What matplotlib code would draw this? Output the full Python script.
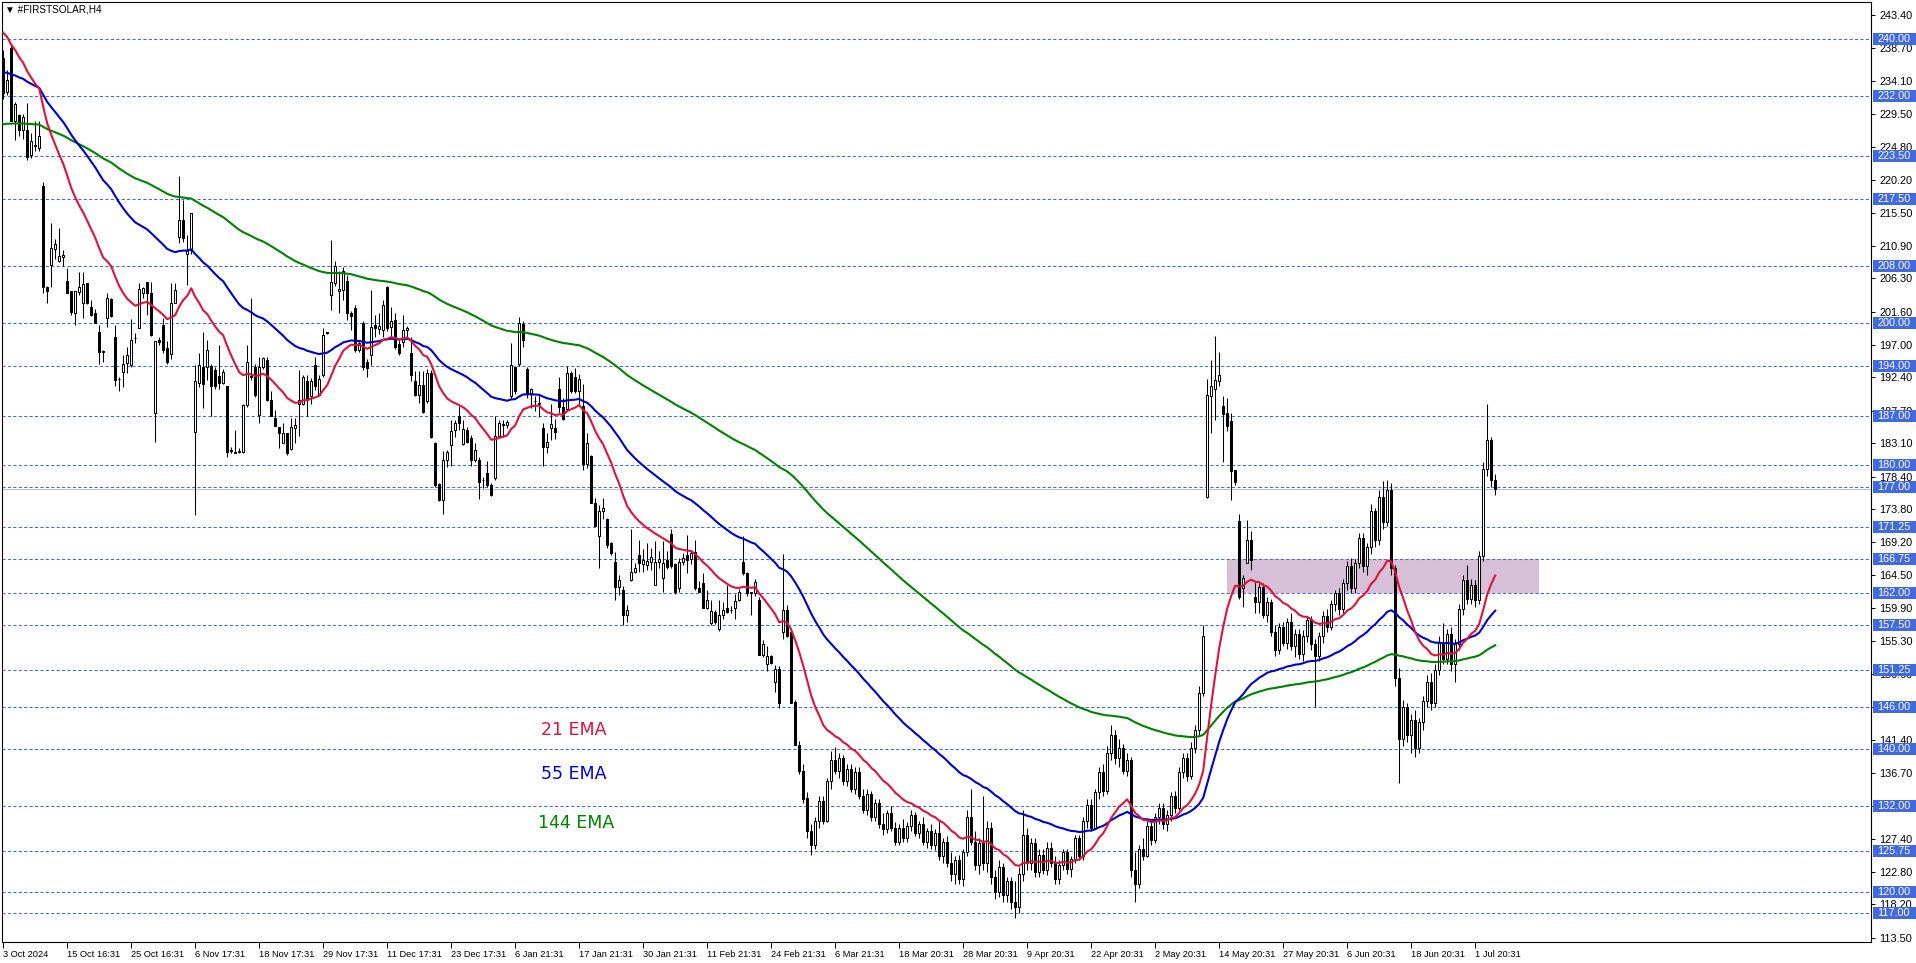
import numpy as np
import matplotlib.pyplot as plt
from matplotlib.patches import Rectangle
from matplotlib.transforms import blended_transform_factory

# ---- candle data (H4 bars, open/high/low/close) ----
bars_oct_mar = [
    (237.3, 238.5, 231.5, 232.4), (232.6, 235.6, 232.1, 234.3), (238.7, 239.5, 228.4, 228.4), (228.4, 231.2, 225.8, 230.9),
    (229.3, 229.5, 226.3, 227.2), (227.2, 229.4, 226.0, 229.0), (227.2, 231.0, 223.0, 223.4), (223.7, 226.8, 223.3, 225.6),
    (224.9, 228.4, 224.2, 225.1), (224.6, 228.4, 224.3, 226.4), (219.3, 219.9, 204.3, 205.1), (205.1, 205.2, 202.8, 204.6),
    (208.2, 214.1, 205.1, 210.6), (210.5, 211.8, 209.1, 211.2), (208.8, 213.4, 208.6, 209.5), (209.3, 210.3, 208.0, 209.6),
    (206.0, 207.8, 204.3, 204.3), (204.5, 204.6, 201.2, 201.6), (201.4, 204.6, 199.8, 204.5), (204.4, 207.2, 204.0, 205.1),
    (202.8, 207.2, 200.8, 205.5), (205.6, 205.7, 202.7, 202.9), (202.3, 203.3, 201.0, 201.2), (201.4, 202.0, 200.0, 200.1),
    (198.8, 199.8, 194.3, 196.0), (196.1, 196.3, 194.5, 196.0), (200.8, 204.2, 199.5, 203.5), (203.4, 203.5, 200.9, 201.0),
    (198.0, 199.8, 191.1, 192.0), (192.2, 192.4, 190.5, 192.1), (193.2, 195.5, 191.0, 194.2), (194.4, 196.7, 193.0, 195.5),
    (194.1, 200.6, 193.8, 197.7), (197.9, 198.6, 197.2, 197.9), (199.3, 205.6, 199.3, 204.8), (204.2, 205.1, 203.6, 204.9),
    (205.8, 205.8, 201.2, 204.2), (204.2, 205.8, 198.2, 198.3), (187.4, 197.5, 183.3, 197.5), (197.6, 198.1, 196.9, 197.3),
    (199.8, 200.7, 195.8, 196.2), (196.5, 197.5, 194.3, 194.6), (195.7, 205.6, 194.9, 202.9), (202.9, 205.6, 202.9, 204.7),
    (212.2, 220.7, 211.3, 214.5), (214.6, 217.4, 211.5, 212.0), (209.7, 212.4, 205.4, 210.1), (210.3, 215.5, 209.8, 215.5),
    (184.7, 194.1, 173.0, 191.8), (191.6, 195.8, 191.0, 194.1), (193.9, 198.8, 188.0, 191.5), (193.9, 197.6, 192.0, 196.2),
    (194.0, 194.3, 186.9, 191.1), (193.4, 193.8, 190.8, 191.1), (192.6, 196.9, 190.8, 191.6), (191.6, 193.5, 191.4, 193.2),
    (191.1, 191.1, 181.2, 181.9), (182.2, 182.6, 181.8, 182.0), (181.9, 185.0, 181.7, 181.8), (181.9, 182.4, 181.7, 182.0),
    (181.9, 188.7, 181.7, 188.5), (188.5, 197.0, 188.2, 194.6), (192.6, 203.5, 192.0, 192.4), (193.9, 194.3, 189.6, 189.9),
    (187.1, 195.3, 185.9, 193.9), (193.9, 195.3, 193.5, 195.1), (194.8, 195.3, 189.0, 189.2), (189.2, 190.4, 186.9, 186.9),
    (186.7, 187.8, 185.5, 185.5), (185.4, 185.4, 182.4, 184.5), (183.1, 185.9, 183.1, 184.6), (184.6, 184.6, 181.5, 181.7),
    (182.3, 186.6, 182.1, 185.4), (185.2, 186.6, 183.2, 185.7), (188.7, 193.4, 184.1, 189.2), (188.7, 192.7, 188.5, 192.4),
    (191.9, 192.7, 186.9, 189.2), (189.8, 192.3, 188.7, 191.8), (194.1, 195.3, 190.6, 191.1), (189.9, 192.7, 189.9, 192.2),
    (192.7, 199.3, 192.4, 198.3), (198.8, 198.8, 198.5, 198.6), (204.0, 211.7, 201.9, 205.8), (205.7, 208.7, 205.2, 208.0),
    (204.5, 207.3, 201.4, 204.8), (204.7, 207.9, 203.3, 207.3), (206.0, 206.8, 200.5, 201.4), (201.4, 201.7, 199.0, 201.0),
    (202.1, 202.5, 195.9, 196.2), (196.2, 197.6, 195.9, 197.2), (200.1, 200.3, 193.4, 193.9), (194.6, 195.0, 192.5, 193.7),
    (195.5, 204.7, 194.1, 199.5), (199.8, 201.2, 198.1, 199.4), (199.2, 201.5, 198.5, 199.6), (199.1, 203.3, 198.1, 202.6),
    (205.1, 205.2, 198.9, 199.3), (199.5, 202.3, 198.1, 200.3), (200.5, 201.4, 196.4, 196.7), (197.1, 197.6, 195.5, 195.8),
    (197.4, 201.2, 196.6, 199.1), (199.1, 199.6, 198.1, 199.4), (195.8, 198.1, 191.8, 192.7), (191.8, 193.3, 189.7, 189.9),
    (189.9, 193.3, 188.8, 191.3), (191.3, 193.3, 187.4, 187.5), (189.1, 193.5, 188.8, 193.0), (193.0, 193.4, 183.9, 184.0),
    (183.1, 183.3, 176.9, 177.2), (177.4, 177.5, 175.0, 175.1), (175.1, 182.0, 173.2, 180.8), (180.8, 182.1, 179.8, 181.9),
    (182.9, 186.4, 179.9, 184.9), (185.0, 186.4, 184.0, 186.0), (186.9, 188.3, 185.0, 185.9), (183.0, 186.4, 182.9, 185.1),
    (185.0, 185.4, 183.2, 183.3), (183.8, 184.2, 179.9, 180.8), (180.8, 183.1, 180.5, 182.2), (180.8, 181.2, 175.2, 177.7),
    (177.9, 178.3, 176.8, 177.9), (178.9, 180.6, 177.0, 177.2), (177.2, 177.5, 175.7, 175.8), (178.2, 186.9, 178.0, 184.1),
    (184.1, 186.4, 184.0, 185.9), (185.8, 186.4, 184.0, 185.7), (185.7, 186.4, 185.2, 186.1), (189.7, 197.2, 189.4, 194.1),
    (193.9, 194.0, 190.0, 190.4), (194.3, 200.9, 194.0, 200.0), (199.9, 200.3, 196.6, 197.6), (193.6, 193.8, 189.5, 190.1),
    (190.2, 190.9, 188.0, 190.7), (189.0, 189.8, 187.7, 189.0), (188.8, 190.1, 186.8, 188.7), (185.3, 186.0, 179.9, 182.6),
    (182.6, 184.5, 181.8, 183.3), (185.2, 188.6, 183.6, 185.8), (185.2, 186.5, 183.7, 184.7), (190.7, 192.4, 187.3, 188.2),
    (188.2, 189.5, 186.4, 186.5), (187.9, 194.0, 187.8, 193.0), (193.0, 193.3, 190.2, 190.4), (192.4, 193.7, 190.2, 190.4),
    (190.4, 192.9, 188.3, 192.2), (188.3, 191.5, 179.3, 180.2), (180.2, 184.5, 179.6, 183.2), (181.3, 181.5, 174.7, 174.7),
    (174.7, 175.4, 171.4, 171.4), (170.0, 174.4, 165.5, 173.5), (173.5, 175.4, 172.5, 174.0), (172.4, 172.6, 168.3, 168.8),
    (169.0, 169.2, 167.4, 167.6), (166.4, 167.8, 161.0, 162.9), (162.9, 164.5, 161.7, 163.8), (162.5, 163.0, 157.5, 158.9),
    (158.9, 160.3, 158.0, 159.6), (163.9, 171.0, 163.7, 165.0), (165.0, 166.3, 164.9, 165.5), (167.4, 169.5, 165.0, 166.2),
    (166.1, 168.2, 165.0, 166.7), (166.0, 169.1, 165.2, 166.6), (166.4, 168.3, 165.2, 167.1), (163.2, 169.3, 163.2, 166.4),
    (166.4, 167.9, 165.5, 166.8), (164.2, 169.3, 162.2, 166.3), (166.7, 167.9, 165.4, 165.7), (170.4, 171.1, 165.6, 165.8),
    (166.1, 166.3, 161.9, 162.1), (162.8, 166.9, 162.2, 166.4), (166.4, 167.7, 166.0, 167.0), (167.4, 170.2, 164.8, 166.7),
    (166.8, 168.1, 166.1, 167.6), (167.8, 169.5, 162.5, 162.7), (162.7, 163.7, 162.1, 162.2), (163.4, 164.8, 159.9, 159.9),
    (159.9, 162.5, 159.8, 161.1), (157.8, 161.0, 157.5, 159.5), (159.4, 159.7, 157.6, 158.0), (156.9, 161.0, 156.7, 158.9),
    (158.9, 160.7, 158.4, 159.6), (159.9, 163.2, 159.2, 159.4), (159.6, 160.2, 159.2, 159.6), (159.9, 161.9, 158.3, 160.9),
    (161.0, 162.6, 160.9, 162.2), (166.4, 170.1, 164.5, 164.8), (164.8, 165.0, 161.6, 162.0), (162.1, 162.2, 158.9, 162.0),
    (162.0, 164.0, 161.6, 163.6), (161.0, 161.4, 153.3, 153.3), (153.3, 155.4, 153.0, 154.9), (152.1, 154.5, 151.0, 153.1),
    (153.1, 153.3, 152.1, 152.2), (149.5, 151.9, 148.1, 151.3), (151.3, 151.7, 145.9, 146.6), (156.5, 167.5, 155.5, 159.6),
    (159.7, 160.3, 155.9, 156.0), (156.6, 157.1, 146.5, 146.6), (146.7, 147.0, 140.6, 140.6),
]

bars_mar_may = [
    (140.6, 141.2, 136.5, 137.0), (137.0, 138.0, 132.5, 133.0), (133.2, 134.0, 127.5, 128.5), (128.5, 129.5, 125.2, 126.5),
    (126.5, 130.5, 126.0, 130.0), (130.0, 133.5, 129.0, 132.8), (132.8, 133.5, 129.5, 130.0), (130.0, 136.0, 129.8, 135.5),
    (135.5, 139.8, 134.5, 138.5), (138.5, 140.3, 136.5, 137.0), (137.0, 139.5, 136.0, 138.8), (138.8, 139.2, 135.0, 135.5),
    (135.5, 138.0, 134.8, 137.2), (137.2, 138.0, 134.0, 134.5), (134.5, 137.5, 133.8, 136.8), (136.8, 137.6, 133.0, 133.5),
    (133.5, 134.5, 131.0, 131.5), (131.5, 134.5, 130.8, 133.8), (133.8, 134.2, 130.0, 130.5), (130.5, 133.0, 130.0, 132.4),
    (132.4, 133.0, 129.0, 129.5), (129.5, 131.0, 128.0, 128.8), (128.8, 131.5, 128.2, 131.0), (131.0, 132.0, 128.5, 129.0),
    (129.0, 129.8, 126.5, 127.0), (127.0, 129.5, 126.5, 129.0), (129.0, 130.2, 127.0, 127.5), (127.5, 129.8, 127.0, 129.2),
    (129.2, 131.5, 128.5, 130.8), (130.8, 131.2, 127.8, 128.2), (128.2, 130.0, 127.5, 129.5), (129.5, 130.5, 126.5, 127.0),
    (127.0, 129.0, 126.2, 128.5), (128.5, 129.5, 126.0, 126.5), (126.5, 128.8, 125.8, 128.2), (128.2, 130.0, 124.5, 125.0),
    (125.0, 127.5, 124.0, 127.0), (127.0, 127.8, 123.5, 124.0), (124.0, 125.5, 121.5, 122.5), (122.5, 125.0, 121.0, 124.5),
    (124.5, 125.2, 121.0, 121.8), (121.8, 126.0, 120.8, 125.5), (125.5, 131.5, 125.0, 130.5), (130.5, 134.5, 126.5, 127.0),
    (127.0, 128.5, 123.0, 123.8), (123.8, 127.5, 122.5, 126.8), (126.8, 133.5, 123.0, 124.0), (124.0, 130.0, 122.8, 129.0),
    (129.0, 129.8, 121.0, 122.0), (122.0, 123.0, 119.0, 120.0), (120.0, 124.5, 119.2, 123.5), (123.5, 124.0, 118.5, 119.5),
    (119.5, 122.0, 118.5, 121.5), (121.5, 122.0, 117.5, 118.5), (118.5, 121.5, 116.3, 117.8), (117.8, 123.5, 117.0, 122.5),
    (122.5, 131.5, 121.5, 128.0), (128.0, 129.0, 123.0, 124.0), (124.0, 127.5, 123.0, 126.8), (126.8, 127.5, 122.0, 122.8),
    (122.8, 126.0, 122.0, 125.2), (125.2, 126.0, 122.5, 123.0), (123.0, 127.0, 122.3, 126.2), (126.2, 127.0, 123.5, 124.0),
    (124.0, 125.0, 121.0, 121.8), (121.8, 124.5, 121.0, 123.8), (123.8, 126.0, 123.0, 125.5), (125.5, 126.0, 122.5, 123.2),
    (123.2, 125.0, 122.0, 124.6), (124.6, 128.0, 124.0, 127.5), (127.5, 128.0, 124.5, 125.0), (125.0, 130.5, 124.5, 130.0),
    (130.0, 133.0, 129.0, 132.2), (132.2, 133.0, 128.5, 129.0), (129.0, 134.5, 128.8, 134.0), (134.0, 137.5, 133.0, 136.8),
    (136.8, 138.0, 133.5, 134.2), (134.2, 140.5, 133.8, 139.5), (139.5, 143.5, 138.5, 142.0), (142.0, 142.8, 138.0, 138.8),
    (138.8, 141.5, 137.5, 140.2), (140.2, 140.8, 136.5, 137.0), (137.0, 139.5, 136.2, 138.5), (138.5, 139.0, 122.0, 123.0),
    (123.0, 125.5, 118.5, 121.0), (121.0, 126.5, 120.5, 126.0), (126.0, 127.5, 124.5, 125.0), (125.0, 130.0, 124.8, 129.2),
    (129.2, 130.2, 126.5, 127.2), (127.2, 131.0, 126.8, 130.5), (130.5, 132.5, 129.5, 131.8), (131.8, 132.5, 128.8, 129.5),
    (129.5, 131.5, 128.5, 130.8), (130.8, 134.0, 130.0, 133.5), (133.5, 134.2, 131.0, 131.8), (131.8, 137.5, 131.5, 136.8),
    (136.8, 139.5, 136.0, 138.8), (138.8, 139.5, 135.5, 136.2), (136.2, 141.0, 135.8, 140.2), (140.2, 143.5, 139.5, 142.8),
    (142.8, 149.0, 142.0, 148.0), (148.0, 157.5, 147.5, 156.0),
]

bars_may_jul = [
    (175.6, 192.2, 175.4, 189.9), (189.8, 194.8, 184.5, 191.1), (190.7, 198.2, 186.4, 192.0), (191.8, 196.0, 191.2, 192.7),
    (188.3, 189.8, 180.4, 187.2), (187.3, 189.5, 184.8, 185.5), (186.3, 187.3, 175.1, 179.2), (179.3, 179.4, 177.2, 177.7),
    (172.1, 173.2, 161.2, 161.5), (162.8, 164.5, 160.1, 164.2), (166.3, 172.3, 166.2, 169.5), (169.5, 170.7, 165.3, 166.7),
    (161.5, 163.6, 159.2, 160.8), (160.8, 163.4, 159.2, 162.9), (162.9, 163.5, 158.5, 159.0), (159.0, 161.5, 158.0, 160.8),
    (160.8, 161.2, 156.0, 156.5), (156.5, 157.5, 153.2, 154.0), (154.0, 157.8, 153.5, 157.2), (157.2, 158.0, 154.5, 155.0),
    (155.0, 158.5, 154.2, 158.0), (158.0, 159.2, 154.0, 154.5), (154.5, 157.0, 153.0, 156.2), (156.2, 157.0, 152.8, 153.5),
    (153.5, 156.8, 152.5, 156.0), (156.0, 158.8, 155.2, 158.2), (158.2, 158.8, 154.0, 154.8), (154.8, 155.5, 146.0, 153.2),
    (153.2, 156.5, 152.5, 156.0), (156.0, 159.5, 155.0, 158.8), (158.8, 159.8, 156.5, 157.2), (157.2, 161.0, 156.8, 160.5),
    (160.5, 162.5, 159.5, 162.0), (162.0, 162.8, 159.0, 159.8), (159.8, 164.0, 159.2, 163.5), (163.5, 166.5, 162.5, 165.8),
    (165.8, 167.0, 162.0, 162.8), (162.8, 166.8, 162.0, 166.2), (166.2, 170.5, 165.5, 169.8), (169.8, 170.5, 165.0, 165.8),
    (165.8, 169.0, 164.5, 168.5), (168.5, 174.5, 167.5, 173.5), (173.5, 174.0, 168.5, 169.5), (169.5, 176.5, 168.8, 175.5),
    (175.5, 177.8, 171.0, 172.0), (172.0, 178.0, 171.5, 176.5), (176.5, 177.5, 164.5, 165.5), (165.5, 166.0, 149.0, 150.0),
    (150.0, 151.5, 135.3, 141.5), (141.5, 147.0, 140.5, 146.0), (146.0, 146.5, 141.0, 142.0), (142.0, 145.0, 139.5, 144.2),
    (144.2, 145.5, 139.0, 140.2), (140.2, 144.5, 139.5, 143.8), (143.8, 147.5, 142.8, 146.8), (146.8, 150.5, 146.0, 149.5),
    (149.5, 150.8, 145.5, 146.5), (146.5, 152.0, 146.0, 151.2), (151.2, 156.0, 150.5, 155.0), (155.0, 157.8, 152.0, 152.8),
    (152.8, 157.0, 152.0, 156.2), (156.2, 157.2, 151.0, 152.0), (152.0, 155.5, 149.5, 154.8), (154.8, 160.5, 154.0, 159.8),
    (159.8, 164.5, 159.0, 163.8), (163.8, 166.0, 160.5, 161.2), (161.2, 164.0, 160.5, 163.2), (163.2, 163.8, 160.0, 161.0),
    (161.0, 168.0, 160.5, 167.2), (167.2, 180.5, 166.5, 179.5), (179.5, 188.7, 178.5, 183.5), (183.5, 184.0, 177.0, 178.0),
    (178.0, 178.8, 175.8, 176.6),
]

# EMA values at the first visible bar
ema_seeds = {21: 240.9, 55: 235.3, 144: 228.0}
ema_colors = {21: '#DC143C', 55: '#0000CD', 144: '#008000'}
ema_label_prices = {21: 142.8, 55: 136.6, 144: 129.6}

levels = [240.00, 232.00, 223.50, 217.50, 208.00, 200.00, 194.00, 187.00, 180.00, 177.00,
          171.25, 166.75, 162.00, 157.50, 151.25, 146.00, 140.00, 132.00, 125.75, 120.00, 117.00]
price_ticks = [243.40, 238.70, 234.10, 229.50, 224.80, 220.20, 215.50, 210.90, 206.30, 201.60,
               197.00, 192.40, 187.70, 183.10, 178.40, 173.80, 169.20, 164.50, 159.90, 155.30,
               150.60, 146.00, 141.40, 136.70, 132.10, 127.40, 122.80, 118.20, 113.50]
date_labels = ['3 Oct 2024', '15 Oct 16:31', '25 Oct 16:31', '6 Nov 17:31', '18 Nov 17:31',
               '29 Nov 17:31', '11 Dec 17:31', '23 Dec 17:31', '6 Jan 21:31', '17 Jan 21:31',
               '30 Jan 21:31', '11 Feb 21:31', '24 Feb 21:31', '6 Mar 21:31', '18 Mar 20:31',
               '28 Mar 20:31', '9 Apr 20:31', '22 Apr 20:31', '2 May 20:31', '14 May 20:31',
               '27 May 20:31', '6 Jun 20:31', '18 Jun 20:31', '1 Jul 20:31']
bars_per_label = 16
zone = (306.0, 384.0, 162.00, 166.75)   # from bar, to bar, low, high
bid = 176.6


def ema(vals, period, seed):
    a = 2.0 / (period + 1)
    out = [seed]
    for v in vals[1:]:
        out.append(out[-1] + a * (v - out[-1]))
    return np.array(out)


bars = bars_oct_mar + bars_mar_may + bars_may_jul
opens = np.array([b[0] for b in bars])
highs = np.array([b[1] for b in bars])
lows = np.array([b[2] for b in bars])
closes = np.array([b[3] for b in bars])

W, H = 1916, 963
plt.rcParams['font.family'] = ['Liberation Sans', 'DejaVu Sans']
fig = plt.figure(figsize=(W / 100, H / 100), dpi=100)
ax = fig.add_axes([2 / W, 21 / H, 1869 / W, 940 / H])
ax.set_xlim(-0.3, 466.95)
ax.set_ylim(112.9, 245.22)

for lv in levels:
    ax.axhline(lv, color='#4169E1', lw=0.75, ls=(0, (3, 2.2)), zorder=1)
ax.axhline(bid, color='#C0C0C0', lw=0.8, zorder=1)

x0, x1, y0, y1 = zone
ax.add_patch(Rectangle((x0, y0), x1 - x0, y1 - y0, facecolor='#D8BFD8', edgecolor='none', zorder=0.5))

idx = np.arange(len(closes))
up = closes >= opens
ax.vlines(idx, lows, highs, color='black', lw=0.75, zorder=3)
ax.bar(idx, np.maximum(np.abs(closes - opens), 0.06), bottom=np.minimum(opens, closes), width=0.55,
       color=np.where(up, 'white', 'black'), edgecolor='black', linewidth=0.72, zorder=4)

for p in (144, 55, 21):
    ax.plot(idx, ema(closes, p, ema_seeds[p]), color=ema_colors[p], lw=1.5, zorder=5)

ax.text(134.5, ema_label_prices[21], '21 EMA', color=ema_colors[21], fontsize=12.5, va='center', family='DejaVu Sans')
ax.text(134.5, ema_label_prices[55], '55 EMA', color=ema_colors[55], fontsize=12.5, va='center', family='DejaVu Sans')
ax.text(133.7, ema_label_prices[144], '144 EMA', color=ema_colors[144], fontsize=12.5, va='center', family='DejaVu Sans')

# axes look
for s in ax.spines.values():
    s.set_linewidth(0.8)
ax.yaxis.tick_right()
ax.set_yticks(price_ticks)
ax.set_yticklabels([f'{v:.2f}' for v in price_ticks], fontsize=7.8)
ax.set_xticks(np.arange(len(date_labels)) * bars_per_label)
ax.set_xticklabels(date_labels, fontsize=6.7, ha='left')
ax.tick_params(axis='y', length=3, width=0.7, pad=3)
ax.tick_params(axis='x', length=4, width=0.7, pad=1.5)

# highlighted level labels on the price scale
box_tr = blended_transform_factory(fig.transFigure, ax.transData)
box_h = 12 / (940 / (245.22 - 112.9))
for lv in levels:
    ax.add_patch(Rectangle((1873 / W, lv - box_h / 2), (W - 1873) / W, box_h, transform=box_tr,
                           facecolor='#4169E1', edgecolor='none', zorder=6, clip_on=False))
    ax.text(1877 / W, lv, f'{lv:.2f}', transform=box_tr, fontsize=7.8, color='white',
            va='center', ha='left', zorder=7, clip_on=False)

fig.text(5 / W, 1 - 9 / H, '\u25bc #FIRSTSOLAR,H4', fontsize=7.2, va='center', ha='left')

fig.savefig('out.png', dpi=100)
